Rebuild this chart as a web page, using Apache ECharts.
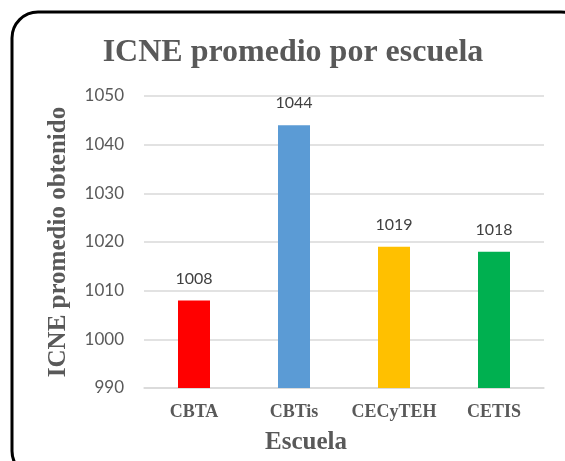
<!DOCTYPE html>
<html><head><meta charset="utf-8">
<script src="https://cdn.jsdelivr.net/npm/echarts@6/dist/echarts.min.js"></script>
<style>html,body{margin:0;padding:0;background:#fff;}#c{width:565px;height:461px;}</style>
</head><body><div id="c"></div>
<script>
const categories = ['CBTA', 'CBTis', 'CECyTEH', 'CETIS'];
const values = [1008, 1044, 1019, 1018];
const colors = ['#FF0000', '#5B9BD5', '#FFC000', '#00B050'];
const yMin = 990, yMax = 1050, yStep = 10;

const chart = echarts.init(document.getElementById('c'));
chart.setOption({
  animation: false,
  backgroundColor: '#fff',
  title: {
    text: 'ICNE promedio por escuela',
    left: 288, top: 32, textAlign: 'center',
    textStyle: { fontFamily: 'Liberation Serif', fontWeight: 'bold', fontSize: 32, color: '#595959' }
  },
  graphic: [
    { type: 'rect', shape: { x: 12, y: 12, width: 575, height: 465, r: 26 },
      style: { fill: 'none', stroke: '#000', lineWidth: 3 }, z: 100 }
  ],
  grid: { left: 144, right: 21, top: 96, bottom: 73, outerBoundsMode: 'none', containLabel: false },
  xAxis: {
    type: 'category', data: categories,
    axisLine: { lineStyle: { color: '#d9d9d9', width: 1.5 } },
    axisTick: { show: false },
    axisLabel: { interval: 0, margin: 15, fontFamily: 'Liberation Serif', fontWeight: 'bold', fontSize: 18, color: '#595959' },
    name: 'Escuela', nameLocation: 'middle', nameGap: 42,
    nameTextStyle: { fontFamily: 'Liberation Serif', fontWeight: 'bold', fontSize: 25, color: '#595959', padding: [0, 76, 0, 0] }
  },
  yAxis: {
    type: 'value', min: yMin, max: yMax, interval: yStep,
    axisLine: { show: false }, axisTick: { show: false },
    splitLine: { lineStyle: { color: '#d9d9d9', width: 1.5 } },
    axisLabel: { margin: 20, fontFamily: 'Lato', fontSize: 17, color: '#595959', formatter: v => String(v) },
    name: 'ICNE promedio obtenido', nameLocation: 'middle', nameGap: 73, nameRotate: 90,
    nameTextStyle: { fontFamily: 'Liberation Serif', fontWeight: 'bold', fontSize: 25, color: '#595959' }
  },
  series: [{
    type: 'bar', barWidth: 32,
    data: values.map((v, i) => ({ value: v, itemStyle: { color: colors[i] } })),
    label: { show: true, position: 'top', distance: 14, fontFamily: 'Lato', fontSize: 16, color: '#404040', formatter: p => String(p.value) }
  }]
});
</script></body></html>
